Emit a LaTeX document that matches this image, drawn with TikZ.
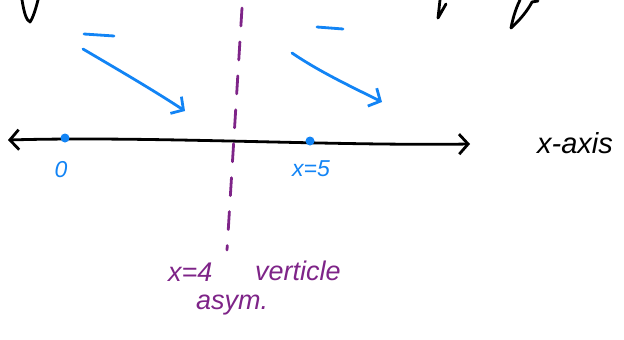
\documentclass[tikz,border=0pt]{standalone}
\usepackage{fontspec}
\setmainfont{Liberation Sans}
\usetikzlibrary{arrows.meta}
\definecolor{penblue}{HTML}{1284F5}
\definecolor{penpurple}{HTML}{7E2488}
\tikzset{
  ink/.style={line width=2.8pt, line cap=round, line join=round},
  bluepen/.style={ink, draw=penblue},
  purplepen/.style={ink, draw=penpurple},
  barb/.style={-{Straight Barb[length=9pt,width=20pt,line width=2.8pt]}},
  bluelabel/.style={text=penblue, font=\itshape\fontsize{23}{25}\selectfont, inner sep=0pt},
  purplelabel/.style={text=penpurple, font=\itshape\fontsize{27}{29}\selectfont, inner sep=0pt, anchor=west},
  dotmark/.style={circle, fill=penblue, inner sep=0pt, minimum size=9pt}
}
\begin{document}
\begin{tikzpicture}[x=1pt,y=-1pt]
\useasboundingbox (0,0) rectangle (624,340);
% cut-off marks at top
\draw[ink, black] (22,0) .. controls (24,12) and (26,20) .. (30,22) .. controls (33,18) and (36,8) .. (38,0);
\draw[ink, black] (440,0) -- (438,18) -- (446,4);
\draw[ink, black] (520,0) .. controls (515,10) and (512,22) .. (511,28) .. controls (520,20) and (528,10) .. (532,2) -- (538,1);
% x-axis
\coordinate (axL) at (8,140);
\coordinate (axR) at (470,144);
\draw[ink, black, {Straight Barb[length=9pt,width=20pt,line width=2.8pt]}-{Straight Barb[length=9pt,width=20pt,line width=2.8pt]}]
  (axL) .. controls (150,136) and (330,146) .. (axR);
\node[font=\itshape\fontsize{29}{31}\selectfont, anchor=west, inner sep=0pt] (axlabel) at (537,143) {x-axis};
% points
\node[dotmark] (p0) at (65,138) {};
\node[dotmark] (p5) at (310,141) {};
\node[bluelabel] (l0) at (61,170) {0};
\node[bluelabel] (l5) at (311,169) {x=5};
% vertical asymptote
\coordinate (vaTop) at (242,8);
\coordinate (vaBot) at (227,250);
\draw[purplepen, dash pattern=on 18pt off 16pt] (vaTop) -- (vaBot);
\node[purplelabel] (va1) at (168,272) {x=4};
\node[purplelabel] (va2) at (255,271) {verticle};
\node[purplelabel] (va3) at (196,305) {asym.};
% blue minus signs and arrows
\coordinate (m1a) at (84,34); \coordinate (m1b) at (114,36);
\coordinate (m2a) at (317,27); \coordinate (m2b) at (343,29);
\draw[bluepen] (m1a) -- (m1b);
\draw[bluepen] (m2a) -- (m2b);
\coordinate (a1s) at (83,49); \coordinate (a1e) at (185,111);
\coordinate (a2s) at (292,53); \coordinate (a2e) at (382,102);
\draw[bluepen, barb] (a1s) .. controls (110,65) and (150,88) .. (a1e);
\draw[bluepen, barb] (a2s) .. controls (320,72) and (350,86) .. (a2e);
\end{tikzpicture}
\end{document}
